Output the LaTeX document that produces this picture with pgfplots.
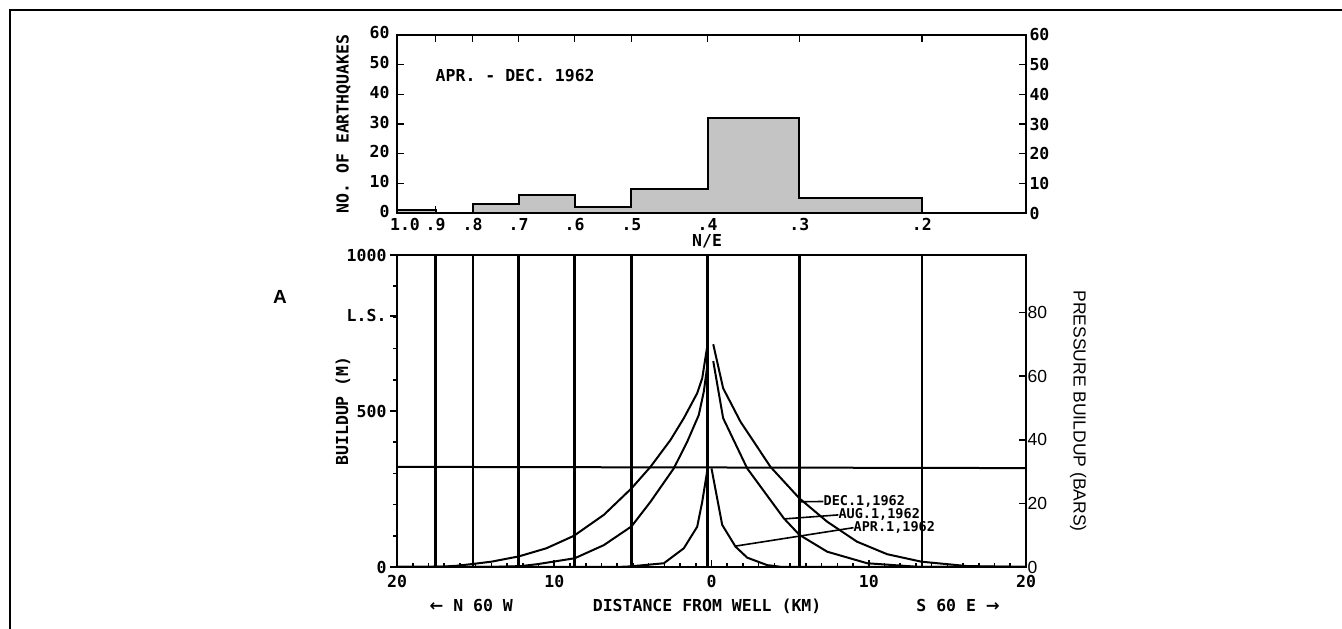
\documentclass[border=0pt]{standalone}
\usepackage{fontspec}
\setmainfont{DejaVu Sans Mono}
\newfontfamily\hv{Liberation Sans}
\newfontfamily\dv{DejaVu Sans}
\usepackage{pgfplots}
\usepackage{pgfplotstable}
\pgfplotsset{compat=1.18}

\newcommand\pl{\fontsize{16.5}{19}\selectfont\bfseries}
\newcommand\sm{\fontsize{13.5}{15}\selectfont\bfseries}
\newcommand\hvl{\fontsize{17.5}{20}\selectfont\hv}

\pgfplotsset{
  base/.style={scale only axis, width=629pt, xmin=-20, xmax=20,
    axis line style={line width=2.2pt},
    every tick/.style={black, line width=1.6pt},
    major tick length=7pt, minor tick length=4pt,
    tick label style={font=\pl}, label style={font=\pl}},
  curve/.style={black, line width=2pt},
}

% histogram bins, x in km (N/E boundaries)
\pgfplotstableread{
x      n
-20    1
-17.55 0
-15.19 3
-12.27 6
-8.71  2
-5.09  8
-0.25  32
5.59   5
13.38  0
20     0
}\hist

\begin{document}
\begin{tikzpicture}
\useasboundingbox (0,0) rectangle (1342pt,629pt);
\draw[line width=2pt] (10pt,0pt) -- (10pt,619pt) -- (1342pt,619pt);
\node[font=\fontsize{19}{21}\selectfont\hv\bfseries] at (280pt,332pt) {A};

% ---- top: histogram
\begin{axis}[base, at={(397pt,416pt)}, anchor=south west, height=178pt,
  ymin=0, ymax=60, ytick={0,10,...,60}, yticklabels={0,10,20,30,40,50,60},
  ytick pos=left, yticklabel style={yshift=2pt, xshift=-4pt},
  xtick={-20,-17.55,-15.19,-12.27,-8.71,-5.09,-0.25,5.59,13.38},
  xticklabels={\hspace*{16pt}1.0,.9,.8,.7,.6,.5,.4,.3,.2},
  xtick pos=both, xticklabel pos=bottom, xticklabel style={yshift=-2pt},
  xlabel={N/E}, xlabel style={at={(axis description cs:0.493,-0.16)}, anchor=center},
  ylabel={NO. OF EARTHQUAKES},
  ylabel style={at={(axis description cs:-0.085,0.5)}, anchor=center},
]
\addplot[const plot, fill=black!23, draw=black, line width=2pt] table {\hist} \closedcycle;
\node[anchor=west, inner sep=0pt, font=\pl] at (axis cs:-17.55,46.2) {APR. - DEC. 1962};
\end{axis}
\begin{axis}[base, at={(397pt,416pt)}, anchor=south west, height=178pt,
  ymin=0, ymax=60, axis x line=none, axis y line*=right,
  ytick={0,10,...,60}, yticklabels={0,10,20,30,40,50,60}]
\end{axis}

% ---- bottom: buildup profiles
\begin{axis}[base, at={(397pt,62pt)}, anchor=south west, height=312pt, clip=false,
  ymin=0, ymax=1000, ytick={0,500,805,1000}, yticklabels={0,500,L.S.,1000},
  minor ytick={100,200,...,900}, ytick pos=left, ytick align=outside,
  xtick={-20,-10,0,10,20}, xticklabels={20,10,0,10,20},
  minor xtick={-19,-18,...,19}, xtick pos=bottom, xticklabel style={yshift=-5pt},
  xlabel={DISTANCE FROM WELL (KM)},
  xlabel style={at={(axis description cs:0.493,-0.125)}, anchor=center},
  ylabel={BUILDUP (M)},
  ylabel style={at={(axis description cs:-0.086,0.5)}, anchor=center},
]
% vertical lines at the N/E class boundaries
\addplot[black, line width=2.2pt, unbounded coords=jump] coordinates {
  (-17.55,0) (-17.55,1000) (-17.55,nan)
  (-15.19,0) (-15.19,1000) (-15.19,nan)
  (-12.27,0) (-12.27,1000) (-12.27,nan)
  (-8.71,0) (-8.71,1000) (-8.71,nan)
  (-5.09,0) (-5.09,1000) (-5.09,nan)
  (-0.25,0) (-0.25,1000) (-0.25,nan)
  (5.59,0) (5.59,1000) (5.59,nan)
  (13.38,0) (13.38,1000)};
\addplot[black, line width=2pt] coordinates {(-20,321) (20,317)};
% Dec. 1, 1962
\addplot[curve] coordinates {(-20,0) (-18,0.5) (-17,1.5) (-16.2,4) (-15.3,9) (-14,17)
  (-12.25,34) (-10.5,60) (-8.75,100) (-6.85,167) (-5.09,252) (-3.88,321)
  (-2.61,407) (-1.76,477) (-0.91,557) (-0.59,605) (-0.24,717)};
\addplot[curve] coordinates {(0.11,714) (0.74,573) (1.84,466) (3.75,321) (5.59,220)
  (7.36,145) (9.26,81) (11.17,41) (13.35,17) (16.25,3) (20,0)};
% Aug. 1, 1962
\addplot[curve] coordinates {(-20,0) (-14,0) (-12.1,3) (-11.08,9) (-8.7,28) (-6.85,70)
  (-5.09,130) (-3.88,209) (-2.40,316) (-1.54,402) (-0.81,487) (-0.49,562) (-0.24,655)};
\addplot[curve] coordinates {(0.11,660) (0.74,477) (2.27,316) (4.6,156) (5.59,103)
  (7.36,49) (9.9,12) (13.3,0) (20,0)};
% Apr. 1, 1962
\addplot[curve] coordinates {(-20,0) (-6,0) (-5.15,2) (-3.03,12) (-1.76,60) (-0.91,129)
  (-0.59,209) (-0.24,318)};
\addplot[curve] coordinates {(0.0,316) (0.68,135) (1.53,65) (2.27,30) (3.54,6) (4.5,0) (20,0)};
% leaders
\addplot[black, line width=1.6pt] coordinates {(5.66,209) (7.12,210)};
\addplot[black, line width=1.6pt] coordinates {(4.6,154) (8.07,167)};
\addplot[black, line width=1.6pt] coordinates {(1.53,67) (9.03,126)};
\node[anchor=west, inner sep=0pt, font=\sm] at (axis cs:7.12,210) {DEC.1,1962};
\node[anchor=west, inner sep=0pt, font=\sm] at (axis cs:8.07,167) {AUG.1,1962};
\node[anchor=west, inner sep=0pt, font=\sm] at (axis cs:9.03,126) {APR.1,1962};
\node[font=\pl] at (axis description cs:0.118,-0.125) {{\dv\bfseries ←} N 60 W};
\node[font=\pl] at (axis description cs:0.892,-0.125) {S 60 E {\dv\bfseries →}};
\end{axis}
\begin{axis}[base, at={(397pt,62pt)}, anchor=south west, height=312pt,
  ymin=0, ymax=98.1, axis x line=none, axis y line*=right,
  ytick={0,20,40,60,80}, yticklabels={0,20,40,60,80},
  yticklabel style={font=\hvl, xshift=-2pt},
  ylabel={PRESSURE BUILDUP (BARS)},
  ylabel style={font=\hvl, at={(axis description cs:1.083,0.5)}, anchor=center, rotate=180},
]
\end{axis}
\end{tikzpicture}
\end{document}
